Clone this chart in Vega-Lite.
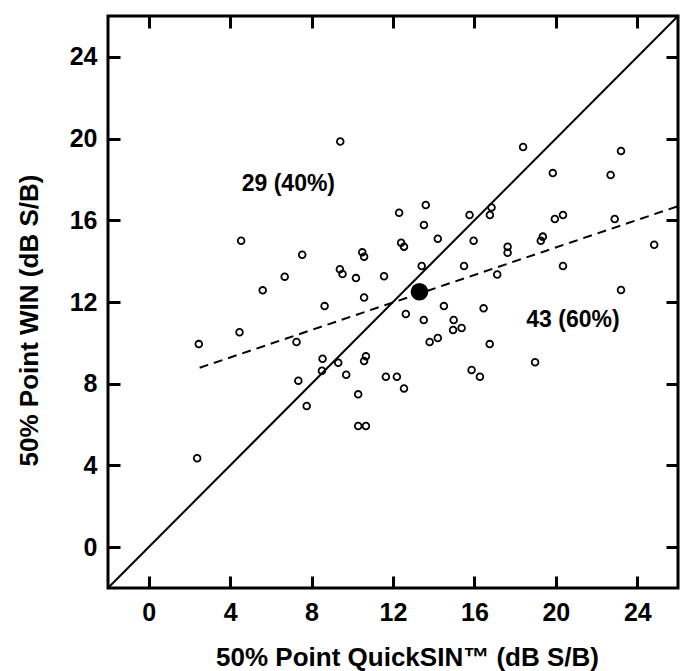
{
  "$schema": "https://vega.github.io/schema/vega-lite/v6.json",
  "width": 570,
  "height": 572,
  "autosize": {"type": "none"},
  "padding": {"left": 108, "top": 16, "right": 2, "bottom": 83},
  "background": "white",
  "config": {
    "view": {"stroke": "black", "strokeWidth": 3},
    "font": "Liberation Sans"
  },
  "datasets": {
    "points": [
      {"quicksin": 9.41, "win": 19.86}, {"quicksin": 12.3, "win": 16.37}, {"quicksin": 4.54, "win": 15.0},
      {"quicksin": 12.4, "win": 14.9}, {"quicksin": 12.54, "win": 14.71}, {"quicksin": 7.54, "win": 14.31},
      {"quicksin": 10.49, "win": 14.43}, {"quicksin": 10.58, "win": 14.22}, {"quicksin": 6.68, "win": 13.24},
      {"quicksin": 9.39, "win": 13.6}, {"quicksin": 9.52, "win": 13.37}, {"quicksin": 10.18, "win": 13.17},
      {"quicksin": 11.56, "win": 13.26}, {"quicksin": 5.6, "win": 12.57}, {"quicksin": 10.58, "win": 12.22},
      {"quicksin": 13.61, "win": 16.75}, {"quicksin": 13.52, "win": 15.77}, {"quicksin": 14.2, "win": 15.1},
      {"quicksin": 13.41, "win": 13.76}, {"quicksin": 8.64, "win": 11.8}, {"quicksin": 4.46, "win": 10.52},
      {"quicksin": 2.46, "win": 9.94}, {"quicksin": 7.26, "win": 10.04}, {"quicksin": 8.54, "win": 9.22},
      {"quicksin": 8.51, "win": 8.64}, {"quicksin": 2.38, "win": 4.35}, {"quicksin": 15.76, "win": 16.26},
      {"quicksin": 7.35, "win": 8.15}, {"quicksin": 18.39, "win": 19.59},
      {"quicksin": 23.2, "win": 19.39}, {"quicksin": 19.85, "win": 18.31}, {"quicksin": 22.69, "win": 18.22},
      {"quicksin": 16.76, "win": 16.26}, {"quicksin": 16.84, "win": 16.63}, {"quicksin": 19.95, "win": 16.06},
      {"quicksin": 20.35, "win": 16.26}, {"quicksin": 22.89, "win": 16.06}, {"quicksin": 15.96, "win": 15.0},
      {"quicksin": 17.63, "win": 14.71}, {"quicksin": 17.63, "win": 14.41}, {"quicksin": 19.36, "win": 15.2},
      {"quicksin": 19.26, "win": 15.0}, {"quicksin": 24.83, "win": 14.8}, {"quicksin": 15.49, "win": 13.76},
      {"quicksin": 17.12, "win": 13.35}, {"quicksin": 20.35, "win": 13.76}, {"quicksin": 23.2, "win": 12.59},
      {"quicksin": 9.31, "win": 9.03}, {"quicksin": 9.7, "win": 8.44}, {"quicksin": 10.67, "win": 9.34},
      {"quicksin": 10.58, "win": 9.11}, {"quicksin": 11.65, "win": 8.34}, {"quicksin": 12.19, "win": 8.34},
      {"quicksin": 10.29, "win": 7.48}, {"quicksin": 7.76, "win": 6.91}, {"quicksin": 10.29, "win": 5.93},
      {"quicksin": 10.67, "win": 5.93}, {"quicksin": 12.63, "win": 11.41}, {"quicksin": 13.51, "win": 11.12},
      {"quicksin": 14.5, "win": 11.8}, {"quicksin": 14.98, "win": 11.12}, {"quicksin": 15.37, "win": 10.73},
      {"quicksin": 14.95, "win": 10.63}, {"quicksin": 14.2, "win": 10.24}, {"quicksin": 13.8, "win": 10.04},
      {"quicksin": 16.45, "win": 11.69}, {"quicksin": 16.75, "win": 9.94}, {"quicksin": 18.98, "win": 9.05},
      {"quicksin": 15.86, "win": 8.67}, {"quicksin": 16.27, "win": 8.34}, {"quicksin": 12.54, "win": 7.77}
    ],
    "diagonal": [{"quicksin": -2, "win": -2}, {"quicksin": 26, "win": 26}],
    "fit": [{"quicksin": 2.5, "win": 8.78}, {"quicksin": 26, "win": 16.69}],
    "mean": [{"quicksin": 13.3, "win": 12.5}],
    "labels": [
      {"quicksin": 6.86, "win": 17.77, "text": "29 (40%)"},
      {"quicksin": 20.84, "win": 11.12, "text": "43 (60%)"}
    ]
  },
  "layer": [
    {
      "data": {"name": "diagonal"},
      "mark": {"type": "line", "color": "black", "strokeWidth": 2, "clip": true},
      "encoding": {
        "x": {
          "field": "quicksin", "type": "quantitative",
          "scale": {"domain": [-2, 26], "nice": false, "zero": false},
          "axis": {
            "orient": "bottom", "values": [0, 4, 8, 12, 16, 20, 24], "format": "d",
            "grid": false, "domain": false, "ticks": false, "tickSize": 0,
            "labelFont": "Liberation Sans", "labelFontSize": 25, "labelFontWeight": "bold", "labelColor": "black",
            "labelPadding": 12,
            "title": "50% Point QuickSIN™ (dB S/B)",
            "titleFont": "Liberation Sans", "titleFontSize": 26, "titleFontWeight": "bold", "titleColor": "black",
            "titleX": 299, "titleY": 77, "titleBaseline": "alphabetic", "titleAlign": "center"
          }
        },
        "y": {
          "field": "win", "type": "quantitative",
          "scale": {"domain": [-2, 26], "nice": false, "zero": false},
          "axis": {
            "orient": "left", "values": [0, 4, 8, 12, 16, 20, 24], "format": "d",
            "grid": false, "domain": false, "ticks": false, "tickSize": 0,
            "labelFont": "Liberation Sans", "labelFontSize": 25, "labelFontWeight": "bold", "labelColor": "black",
            "labelPadding": 11,
            "title": "50% Point WIN (dB S/B)",
            "titleFont": "Liberation Sans", "titleFontSize": 26, "titleFontWeight": "bold", "titleColor": "black",
            "titleX": -71, "titleY": 304, "titleBaseline": "alphabetic", "titleAlign": "center", "titleAngle": -90
          }
        }
      }
    },
    {
      "data": {"name": "fit"},
      "mark": {"type": "line", "color": "black", "strokeWidth": 2, "strokeDash": [9, 6], "clip": true},
      "encoding": {
        "x": {
          "field": "quicksin", "type": "quantitative",
          "axis": {
            "orient": "top", "offset": -572, "values": [0, 4, 8, 12, 16, 20, 24], "labels": false, "title": null,
            "grid": false, "domain": false, "tickSize": 12, "tickWidth": 3, "tickColor": "black"
          }
        },
        "y": {
          "field": "win", "type": "quantitative",
          "axis": {
            "orient": "right", "offset": -570, "values": [0, 4, 8, 12, 16, 20, 24], "labels": false, "title": null,
            "grid": false, "domain": false, "tickSize": 12, "tickWidth": 3, "tickColor": "black"
          }
        }
      }
    },
    {
      "data": {"name": "points"},
      "mark": {"type": "point", "shape": "circle", "filled": false, "stroke": "black", "strokeWidth": 1.8, "size": 45, "opacity": 1},
      "encoding": {
        "x": {
          "field": "quicksin", "type": "quantitative",
          "axis": {
            "orient": "bottom", "offset": -572, "values": [0, 4, 8, 12, 16, 20, 24], "labels": false, "title": null,
            "grid": false, "domain": false, "tickSize": 12, "tickWidth": 3, "tickColor": "black"
          }
        },
        "y": {
          "field": "win", "type": "quantitative",
          "axis": {
            "orient": "left", "offset": -570, "values": [0, 4, 8, 12, 16, 20, 24], "labels": false, "title": null,
            "grid": false, "domain": false, "tickSize": 12, "tickWidth": 3, "tickColor": "black"
          }
        }
      }
    },
    {
      "data": {"name": "mean"},
      "mark": {"type": "point", "shape": "circle", "filled": true, "color": "black", "size": 310, "opacity": 1},
      "encoding": {
        "x": {"field": "quicksin", "type": "quantitative", "axis": null},
        "y": {"field": "win", "type": "quantitative", "axis": null}
      }
    },
    {
      "data": {"name": "labels"},
      "mark": {"type": "text", "font": "Liberation Sans", "fontSize": 23, "fontWeight": "bold", "color": "black", "align": "center", "baseline": "middle"},
      "encoding": {
        "x": {"field": "quicksin", "type": "quantitative", "axis": null},
        "y": {"field": "win", "type": "quantitative", "axis": null},
        "text": {"field": "text", "type": "nominal"}
      }
    }
  ],
  "resolve": {"axis": {"x": "independent", "y": "independent"}}
}
